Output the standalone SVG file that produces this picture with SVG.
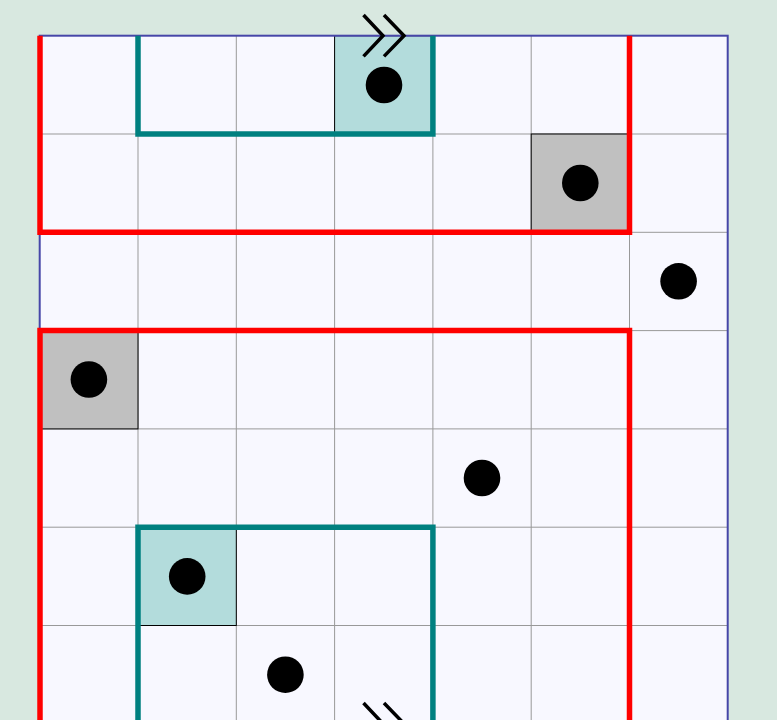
<svg xmlns="http://www.w3.org/2000/svg" width="777" height="720" viewBox="0 0 777 720">
<style>
.grid{stroke:#999;stroke-width:1;fill:none}
.red{stroke:#ff0000;stroke-width:5.5;fill:none;stroke-linejoin:miter}
.teal{stroke:#008080;stroke-width:5.5;fill:none;stroke-linejoin:miter}
.tealcell{fill:#b3dcdc;stroke:#000;stroke-width:1}
.graycell{fill:#c0c0c0;stroke:#000;stroke-width:1}
.dot{fill:#000}
.chev{stroke:#000;stroke-width:3.5;fill:none}
</style>
<rect x="0" y="0" width="777" height="720" fill="#d8e8e0"/>
<g id="board">
<rect x="39.7" y="35.7" width="688" height="700" fill="#f8f8ff"/>
</g>
<g id="gridlines" class="grid">
<path d="M138,35.7V720M236.3,35.7V720M334.6,35.7V720M432.9,35.7V720M531.2,35.7V720M629.5,35.7V720"/>
<path d="M39.7,134H727.7M39.7,232.3H727.7M39.7,330.6H727.7M39.7,428.9H727.7M39.7,527.2H727.7M39.7,625.5H727.7"/>
</g>
<g id="shaded">
<rect class="tealcell" x="334.6" y="35.7" width="98.3" height="98.3"/>
<rect class="graycell" x="531.2" y="134" width="98.3" height="98.3"/>
<rect class="graycell" x="39.7" y="330.6" width="98.3" height="98.3"/>
<rect class="tealcell" x="138" y="527.2" width="98.3" height="98.3"/>
</g>
<rect x="39.7" y="35.7" width="688" height="700" fill="none" stroke="#4646a8" stroke-width="2"/>
<g id="connectors">
<path class="red" d="M40,35.7V232.3H629.5V35.7"/>
<path class="red" d="M40,730V330.6H629.5V730"/>
<path class="teal" d="M138,35.7V134H432.9V35.7"/>
<path class="teal" d="M138,730V527.2H432.9V730"/>
</g>
<g id="dots">
<circle class="dot" cx="384" cy="85" r="18.3"/>
<circle class="dot" cx="580.3" cy="183" r="18.3"/>
<circle class="dot" cx="678.6" cy="281.3" r="18.3"/>
<circle class="dot" cx="88.9" cy="379.5" r="18.3"/>
<circle class="dot" cx="482" cy="478" r="18.3"/>
<circle class="dot" cx="187.2" cy="576.4" r="18.3"/>
<circle class="dot" cx="285.4" cy="674.7" r="18.3"/>
</g>
<g id="chevrons-top" class="chev">
<path d="M363.5,15L383,35.7L363.5,56.4"/>
<path d="M384,15L404,35.7L384,56.4"/>
</g>
<g id="chevrons-bottom" class="chev">
<path d="M363.5,703L383,723.7L363.5,744.4"/>
<path d="M384,703L404,723.7L384,744.4"/>
</g>
</svg>
